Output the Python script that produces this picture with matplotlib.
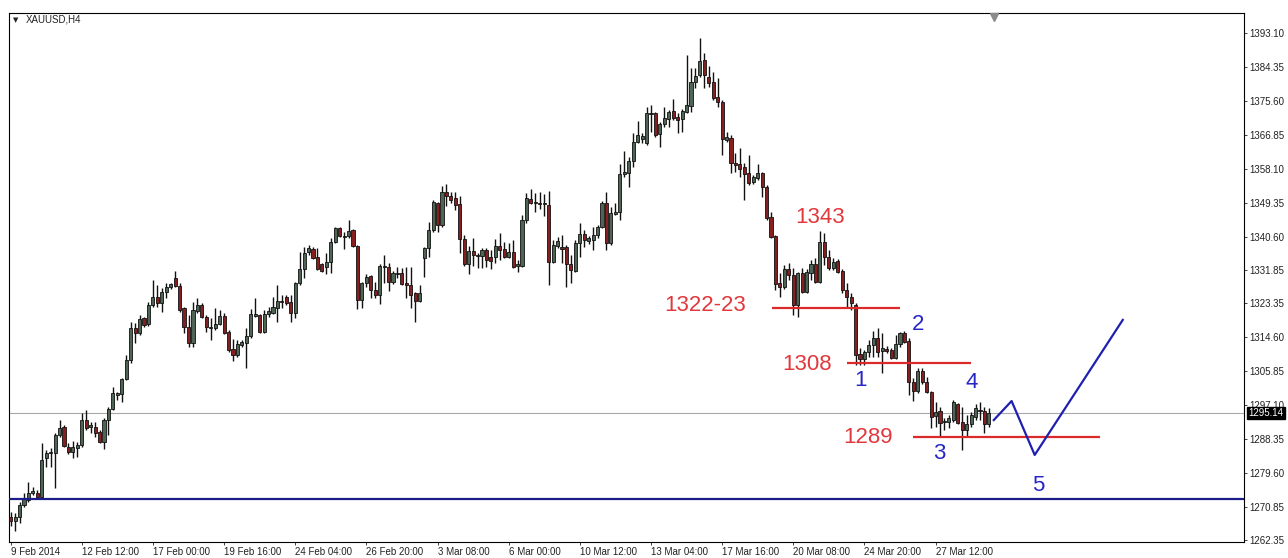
"""XAUUSD H4 candles with wave count annotations (MT4 style)."""
import matplotlib
matplotlib.use("Agg")
import matplotlib.pyplot as plt
import matplotlib.transforms as mtransforms

# OHLC per H4 bar
opens = [
    1268.3, 1267.2, 1268.3, 1271.4, 1272.7, 1274.5, 1274.5, 1273.4, 1283.5, 1284.8,
    1284.8, 1289.4, 1291.5, 1286.3, 1285.0, 1286.0, 1286.8, 1293.3, 1291.5, 1291.5,
    1290.2, 1287.6, 1293.3, 1296.1, 1299.7, 1300.0, 1303.9, 1308.8, 1317.0, 1315.7,
    1319.6, 1318.0, 1322.9, 1325.0, 1323.5, 1326.3, 1327.6, 1329.9, 1327.8, 1322.2,
    1317.3, 1313.1, 1321.4, 1322.9, 1319.8, 1317.0, 1317.0, 1318.0, 1320.1, 1316.0,
    1311.6, 1310.0, 1312.6, 1313.1, 1314.9, 1320.1, 1320.4, 1316.0, 1320.6, 1320.9,
    1322.2, 1323.7, 1325.0, 1323.7, 1320.9, 1328.6, 1332.2, 1336.6, 1337.4, 1335.3,
    1333.5, 1332.7, 1334.0, 1339.2, 1342.8, 1340.5, 1340.7, 1342.3, 1338.2, 1324.2,
    1328.6, 1330.4, 1326.8, 1325.5, 1332.7, 1332.7, 1328.9, 1330.9, 1331.2, 1328.6,
    1328.1, 1326.0, 1324.0, 1335.1, 1337.6, 1342.3, 1349.2, 1343.6, 1352.1, 1351.0,
    1350.5, 1349.0, 1340.0, 1333.5, 1336.9, 1335.8, 1335.6, 1337.1, 1335.3, 1335.3,
    1338.2, 1337.4, 1335.3, 1336.6, 1333.0, 1333.0, 1344.9, 1350.3, 1349.5, 1349.2,
    1349.0, 1348.7, 1334.0, 1338.2, 1337.9, 1337.9, 1333.5, 1331.7, 1338.9, 1341.3,
    1339.4, 1339.7, 1341.0, 1343.1, 1349.2, 1338.9, 1346.4, 1346.9, 1356.7, 1357.0,
    1360.1, 1365.0, 1365.8, 1364.7, 1372.2, 1372.5, 1367.0, 1369.6, 1370.9, 1373.0,
    1371.4, 1370.9, 1372.7, 1374.3, 1380.5, 1382.3, 1386.1, 1381.7, 1380.5, 1376.6,
    1375.3, 1365.5, 1366.0, 1359.6, 1359.3, 1358.5, 1357.0, 1354.7, 1355.7, 1357.0,
    1353.4, 1345.6, 1340.7, 1328.6, 1327.6, 1332.2, 1330.7, 1322.9, 1331.2, 1326.3,
    1331.2, 1333.5, 1328.9, 1339.2, 1335.3, 1332.5, 1334.3, 1331.7, 1326.8, 1325.0,
    1322.9, 1310.3, 1309.0, 1310.8, 1312.6, 1314.4, 1311.1, 1311.6, 1311.3, 1309.3,
    1312.9, 1315.7, 1313.6, 1303.1, 1300.8, 1305.9, 1303.1, 1300.5, 1294.3, 1295.6,
    1292.8, 1292.8, 1293.3, 1297.4, 1292.8, 1290.7, 1292.3, 1294.1, 1295.9, 1295.6,
    1292.3,
]
highs = [
    1269.6, 1269.3, 1272.2, 1274.5, 1277.3, 1276.0, 1275.2, 1287.4, 1285.5, 1286.0,
    1289.9, 1293.3, 1292.0, 1287.4, 1287.9, 1287.6, 1295.1, 1295.9, 1292.8, 1292.8,
    1290.7, 1293.8, 1296.6, 1301.8, 1300.5, 1304.1, 1310.0, 1318.6, 1318.3, 1320.4,
    1319.8, 1323.7, 1329.4, 1328.1, 1327.3, 1328.6, 1328.6, 1331.7, 1328.6, 1322.4,
    1320.4, 1323.7, 1324.7, 1323.5, 1320.4, 1319.6, 1322.2, 1321.7, 1320.9, 1316.5,
    1314.2, 1313.9, 1313.9, 1317.0, 1321.9, 1324.7, 1320.6, 1321.7, 1322.4, 1325.0,
    1328.1, 1325.5, 1325.5, 1325.5, 1328.9, 1336.6, 1337.9, 1338.4, 1337.9, 1337.6,
    1333.8, 1336.3, 1340.2, 1343.1, 1343.1, 1341.8, 1344.9, 1342.5, 1338.4, 1328.9,
    1330.9, 1330.7, 1328.9, 1333.5, 1335.8, 1333.8, 1331.7, 1332.7, 1332.5, 1332.7,
    1332.7, 1326.3, 1328.1, 1337.9, 1344.3, 1350.0, 1349.5, 1353.6, 1354.1, 1352.1,
    1352.1, 1351.0, 1341.0, 1338.2, 1340.2, 1336.3, 1337.6, 1337.6, 1337.1, 1340.0,
    1341.5, 1339.2, 1338.9, 1339.7, 1334.5, 1346.2, 1351.8, 1352.9, 1351.8, 1352.1,
    1351.6, 1352.3, 1339.7, 1340.5, 1341.0, 1338.4, 1335.8, 1339.7, 1344.1, 1342.3,
    1340.7, 1343.1, 1343.6, 1349.8, 1352.1, 1348.2, 1349.2, 1359.3, 1362.7, 1361.1,
    1367.3, 1370.4, 1367.3, 1374.0, 1374.5, 1372.7, 1370.1, 1374.0, 1373.2, 1376.1,
    1372.5, 1373.5, 1387.4, 1384.1, 1384.1, 1391.8, 1387.9, 1384.6, 1383.0, 1381.5,
    1375.8, 1367.6, 1366.8, 1362.1, 1363.4, 1359.6, 1361.6, 1356.5, 1359.3, 1357.2,
    1353.9, 1346.9, 1341.0, 1331.2, 1333.3, 1333.8, 1332.5, 1331.5, 1332.5, 1332.2,
    1334.5, 1335.1, 1342.0, 1341.5, 1337.1, 1335.1, 1334.8, 1332.2, 1328.6, 1326.0,
    1323.5, 1311.9, 1311.3, 1313.9, 1316.2, 1317.0, 1315.7, 1312.4, 1311.9, 1315.2,
    1316.0, 1316.2, 1314.4, 1304.1, 1306.7, 1306.7, 1304.4, 1300.8, 1297.9, 1296.6,
    1293.8, 1294.6, 1298.4, 1297.7, 1296.6, 1294.6, 1295.4, 1297.4, 1297.9, 1296.6,
    1296.4,
]
lows = [
    1265.9, 1264.7, 1266.7, 1270.9, 1272.2, 1273.9, 1273.2, 1273.2, 1281.2, 1281.2,
    1275.7, 1288.9, 1286.3, 1284.5, 1283.5, 1283.7, 1286.3, 1290.7, 1289.9, 1288.9,
    1287.4, 1285.8, 1289.4, 1295.9, 1298.4, 1297.9, 1303.6, 1308.0, 1313.1, 1315.2,
    1317.3, 1317.6, 1322.4, 1322.4, 1321.1, 1324.7, 1327.1, 1327.6, 1321.1, 1315.7,
    1312.1, 1312.1, 1320.9, 1319.6, 1316.0, 1313.9, 1316.5, 1317.8, 1315.5, 1310.8,
    1308.5, 1309.5, 1312.1, 1306.7, 1314.4, 1319.8, 1315.7, 1315.7, 1319.8, 1320.6,
    1318.6, 1322.2, 1322.9, 1318.6, 1319.6, 1328.1, 1330.0, 1335.8, 1334.8, 1332.0,
    1331.5, 1330.9, 1331.2, 1338.9, 1340.5, 1337.4, 1340.2, 1337.9, 1321.9, 1322.2,
    1327.6, 1324.7, 1324.7, 1323.2, 1328.6, 1326.5, 1328.4, 1329.9, 1328.1, 1324.7,
    1322.2, 1318.6, 1323.7, 1330.2, 1335.3, 1341.8, 1341.8, 1343.1, 1348.5, 1349.2,
    1347.4, 1336.3, 1333.0, 1330.9, 1333.0, 1332.5, 1332.5, 1332.7, 1332.2, 1333.8,
    1334.5, 1335.0, 1335.1, 1332.5, 1331.5, 1332.7, 1344.1, 1349.0, 1346.9, 1347.7,
    1345.9, 1328.1, 1333.8, 1337.6, 1333.8, 1327.6, 1328.6, 1331.5, 1335.3, 1337.9,
    1338.7, 1337.1, 1340.2, 1342.8, 1337.1, 1338.4, 1346.2, 1344.9, 1355.9, 1353.4,
    1358.5, 1364.7, 1364.7, 1364.2, 1367.6, 1366.3, 1363.7, 1368.8, 1368.8, 1370.7,
    1367.3, 1367.6, 1372.5, 1372.7, 1378.9, 1381.7, 1378.9, 1379.2, 1375.8, 1374.0,
    1361.6, 1365.0, 1357.0, 1357.2, 1355.9, 1350.0, 1353.9, 1354.1, 1355.2, 1350.8,
    1344.9, 1340.2, 1326.8, 1325.0, 1327.1, 1329.4, 1320.4, 1319.8, 1326.0, 1326.0,
    1329.4, 1328.6, 1328.6, 1333.3, 1332.0, 1332.0, 1331.2, 1326.0, 1322.4, 1321.7,
    1307.5, 1307.5, 1307.5, 1309.5, 1309.5, 1309.5, 1305.4, 1310.6, 1309.0, 1309.0,
    1312.1, 1313.1, 1299.7, 1298.2, 1300.2, 1302.6, 1300.2, 1291.2, 1291.5, 1288.9,
    1290.7, 1291.2, 1292.8, 1292.3, 1285.5, 1288.9, 1291.5, 1293.3, 1293.3, 1289.9,
    1291.5,
]
closes = [
    1267.2, 1268.3, 1271.4, 1273.2, 1274.5, 1275.0, 1273.4, 1283.0, 1284.8, 1285.0,
    1289.4, 1291.2, 1286.6, 1285.0, 1286.3, 1286.8, 1293.3, 1291.2, 1292.0, 1289.9,
    1287.6, 1293.3, 1296.1, 1300.2, 1300.2, 1303.9, 1308.8, 1317.0, 1315.7, 1319.3,
    1317.8, 1322.9, 1325.0, 1323.5, 1326.3, 1327.6, 1328.4, 1327.8, 1321.7, 1317.3,
    1313.1, 1321.7, 1322.9, 1319.8, 1317.3, 1317.3, 1318.0, 1320.1, 1315.7, 1311.3,
    1310.0, 1312.9, 1313.4, 1314.9, 1320.6, 1320.6, 1316.0, 1320.6, 1321.4, 1322.4,
    1324.0, 1324.0, 1323.5, 1320.9, 1328.6, 1332.2, 1336.3, 1337.6, 1335.1, 1332.2,
    1331.7, 1334.0, 1339.2, 1342.8, 1340.7, 1340.7, 1342.0, 1338.2, 1324.2, 1328.6,
    1330.2, 1326.8, 1325.5, 1333.0, 1333.0, 1328.9, 1331.2, 1331.2, 1328.4, 1328.1,
    1325.5, 1324.0, 1326.0, 1337.6, 1342.3, 1349.5, 1343.6, 1352.1, 1351.0, 1350.0,
    1348.7, 1340.0, 1333.5, 1336.9, 1335.8, 1335.6, 1337.1, 1334.5, 1334.3, 1338.2,
    1337.1, 1335.3, 1336.6, 1332.7, 1333.5, 1344.9, 1350.5, 1349.2, 1349.2, 1349.0,
    1349.3, 1334.0, 1338.4, 1339.4, 1337.4, 1333.5, 1332.0, 1338.9, 1341.3, 1339.7,
    1340.2, 1341.0, 1343.1, 1349.2, 1338.9, 1346.7, 1346.9, 1356.7, 1357.2, 1360.1,
    1365.0, 1366.8, 1366.5, 1372.5, 1372.5, 1366.8, 1369.6, 1371.2, 1372.7, 1371.2,
    1370.7, 1373.0, 1374.5, 1380.5, 1382.0, 1385.9, 1382.3, 1380.2, 1376.3, 1375.3,
    1365.8, 1366.3, 1359.6, 1359.0, 1358.0, 1356.7, 1354.4, 1355.9, 1357.0, 1353.4,
    1345.4, 1340.5, 1328.4, 1327.6, 1332.2, 1330.7, 1322.9, 1331.2, 1326.3, 1331.5,
    1333.5, 1328.9, 1339.2, 1335.3, 1332.5, 1334.0, 1331.5, 1326.8, 1325.0, 1323.5,
    1310.0, 1309.0, 1310.8, 1312.6, 1314.4, 1310.8, 1311.9, 1311.1, 1309.3, 1312.9,
    1315.7, 1313.4, 1303.1, 1300.8, 1305.9, 1303.1, 1300.5, 1294.1, 1295.4, 1292.5,
    1293.0, 1293.8, 1297.9, 1292.5, 1290.7, 1292.3, 1294.6, 1296.4, 1295.6, 1292.3,
    1295.14,
]

# axis labels
xtick_bars = [0, 16, 32, 48, 64, 80, 96, 112, 128, 144, 160, 176, 192, 208]
xtick_labels = ["9 Feb 2014", "12 Feb 12:00", "17 Feb 00:00", "19 Feb 16:00",
                "24 Feb 04:00", "26 Feb 20:00", "3 Mar 08:00", "6 Mar 00:00",
                "10 Mar 12:00", "13 Mar 04:00", "17 Mar 16:00", "20 Mar 08:00",
                "24 Mar 20:00", "27 Mar 12:00"]
ytick_prices = [1393.10, 1384.35, 1375.60, 1366.85, 1358.10, 1349.35, 1340.60,
                1331.85, 1323.35, 1314.60, 1305.85, 1297.10, 1288.35, 1279.60,
                1270.85, 1262.35]

# drawn levels and the projected path
last_price = 1295.14
support_price = 1272.9
levels = [1322.3, 1308.1, 1289.0]
level_bars = [(171.3, 200.0), (188.1, 215.9), (202.9, 244.9)]
level_labels = ["1322-23", "1308", "1289"]
level_label_pos = [(156.2, 1321.4), (179.2, 1306.3), (192.9, 1287.4)]
peak_label = "1343"
peak_label_pos = (182.1, 1344.2)
path_bars = [221.1, 225.1, 230.3, 250.1]
path_prices = [1293.3, 1298.2, 1284.3, 1319.1]
wave_labels = ["1", "2", "3", "4", "5"]
wave_pos = [(191.1, 1302.1), (204.1, 1316.5), (208.9, 1283.2), (216.1, 1301.5),
            (231.1, 1275.0)]

BULL = "#4e6455"
BEAR = "#861f1f"
RED = "#dc2a2a"
RED_TXT = "#e0383c"
BLUE_TXT = "#2626c4"


def main():
    fig = plt.figure(figsize=(12.88, 5.58), dpi=100)
    ax = fig.add_axes([9.3 / 1288, 16.5 / 558, 1234.4 / 1288, 528.5 / 558])

    xs = list(range(len(closes)))
    bottoms, heights, colors = [], [], []
    for o, c in zip(opens, closes):
        bottoms.append(min(o, c))
        heights.append(max(abs(c - o), 0.3))
        colors.append(BULL if c >= o else BEAR)
    ax.vlines(xs, lows, highs, color="#111111", lw=1.0, zorder=2)
    ax.bar(xs, heights, bottom=bottoms, width=0.7, color=colors,
           edgecolor="#111111", linewidth=0.6, zorder=3)

    ax.axhline(last_price, color="#a8a8a8", lw=0.8, zorder=1)
    ax.axhline(support_price, color="#1c1c8a", lw=1.6, zorder=4)

    for lv, (x0, x1) in zip(levels, level_bars):
        ax.plot([x0, x1], [lv, lv], color=RED, lw=1.6, zorder=4,
                solid_capstyle="butt")
    ax.plot(path_bars, path_prices, color="#2020b0", lw=1.6, zorder=4)

    for txt, (bx, by) in zip(level_labels, level_label_pos):
        ax.text(bx, by, txt, color=RED_TXT, fontsize=16, family="Liberation Sans",
                ha="center", va="baseline", zorder=5)
    ax.text(peak_label_pos[0], peak_label_pos[1], peak_label, color=RED_TXT,
            fontsize=16, family="Liberation Sans", ha="center", va="baseline", zorder=5)
    for txt, (bx, by) in zip(wave_labels, wave_pos):
        ax.text(bx, by, txt, color=BLUE_TXT, fontsize=16, family="Liberation Sans",
                ha="center", va="baseline", zorder=5)

    ax.set_xlim(-0.3, 277.3)
    ax.set_ylim(1262.0, 1398.2)

    ax.set_xticks(xtick_bars)
    ax.set_xticklabels(xtick_labels, ha="left", family="Liberation Sans")
    ax.yaxis.tick_right()
    ax.set_yticks(ytick_prices)
    ax.set_yticklabels([f"{p:.2f}" for p in ytick_prices], family="Liberation Sans")
    ax.tick_params(axis="both", direction="out", length=2.5, width=0.6,
                   labelsize=7, colors="#222222", pad=1.5)
    for sp in ax.spines.values():
        sp.set_color("black")
        sp.set_linewidth(0.8)

    # current price tag on the price scale (covers part of 1297.10, as in MT4)
    tr = mtransforms.blended_transform_factory(ax.transAxes, ax.transData)
    ax.text(1.004, last_price, f"{last_price:.2f}", transform=tr, color="white",
            fontsize=7, family="Liberation Sans", ha="left", va="center",
            bbox=dict(boxstyle="square,pad=0.12", fc="black", ec="black"),
            clip_on=False, zorder=6)

    # symbol caption and chart-shift marker
    ax.text(0.0055, 0.987, "\u25bc", transform=ax.transAxes, fontsize=5,
            family="DejaVu Sans", ha="center", va="center", color="#222222")
    ax.text(0.0135, 0.987, "XAUUSD,H4", transform=ax.transAxes, fontsize=7,
            family="Liberation Sans", ha="left", va="center", color="#222222")
    trx = mtransforms.blended_transform_factory(ax.transData, ax.transAxes)
    ax.plot([221.1], [0.992], transform=trx, marker="v", ms=6, color="#8a8a8a",
            clip_on=False, zorder=6)

    fig.savefig("out.png", dpi=100)


if __name__ == "__main__":
    main()
